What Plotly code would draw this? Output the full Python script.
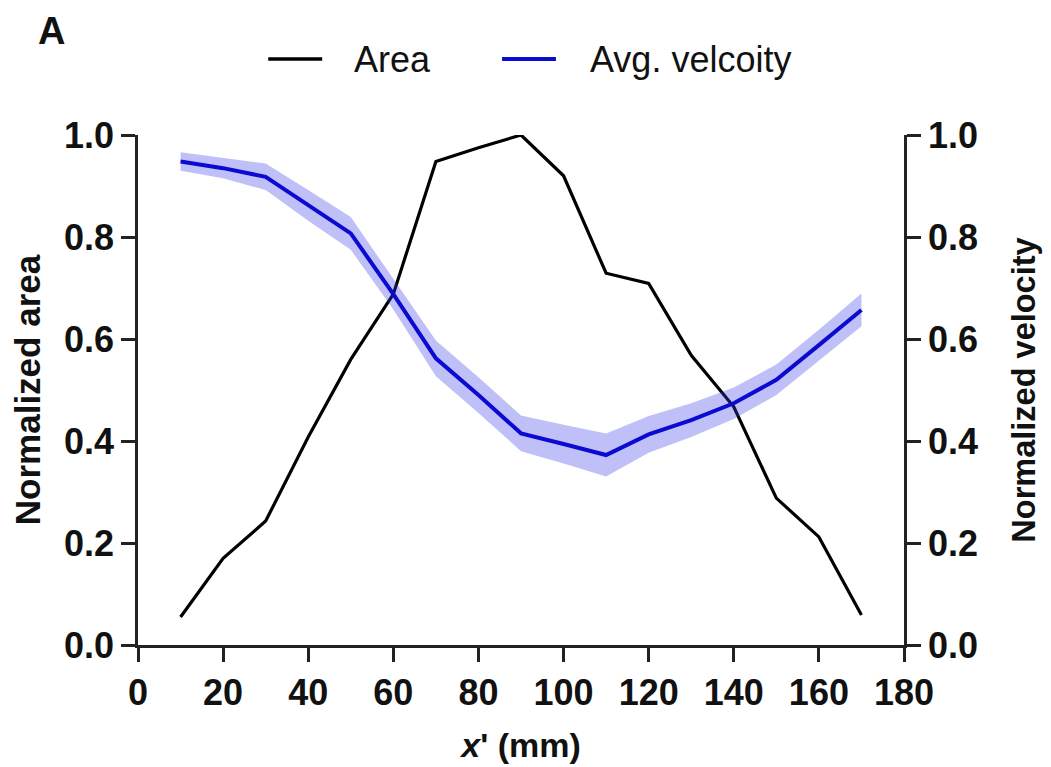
import plotly.graph_objects as go

x_mm = [10, 20, 30, 40, 50, 60, 70, 80, 90, 100, 110, 120, 130, 140, 150, 160, 170]
area = [0.055, 0.17, 0.243, 0.408, 0.56, 0.688, 0.948, 0.975, 1.0, 0.92, 0.729, 0.709, 0.568, 0.467, 0.288, 0.212, 0.059]
velocity = [0.948, 0.935, 0.918, 0.862, 0.807, 0.688, 0.562, 0.49, 0.415, 0.394, 0.3725, 0.413, 0.441, 0.474, 0.52, 0.588, 0.657]
velocity_sd = [0.018, 0.02, 0.026, 0.03, 0.032, 0.03, 0.035, 0.035, 0.035, 0.038, 0.042, 0.036, 0.033, 0.031, 0.03, 0.03, 0.032]
x_ticks = [0, 20, 40, 60, 80, 100, 120, 140, 160, 180]
y_ticks = [0.0, 0.2, 0.4, 0.6, 0.8, 1.0]
legend_labels = ["Area", "Avg. velcoity"]

FONT = "Liberation Sans, Arial, sans-serif"
AXIS_COLOR = "#222222"
AREA_COLOR = "black"
VEL_COLOR = "#0a0ad2"

upper = [v + s for v, s in zip(velocity, velocity_sd)]
lower = [v - s for v, s in zip(velocity, velocity_sd)]

fig = go.Figure()
fig.add_trace(go.Scatter(
    x=x_mm + x_mm[::-1], y=upper + lower[::-1], yaxis="y2",
    fill="toself", fillcolor="rgba(60,60,235,0.32)", line=dict(width=0),
    mode="lines", showlegend=False, hoverinfo="skip"))
fig.add_trace(go.Scatter(
    x=x_mm, y=area, name=legend_labels[0], mode="lines", showlegend=False,
    line=dict(color=AREA_COLOR, width=3.2)))
fig.add_trace(go.Scatter(
    x=x_mm, y=velocity, name=legend_labels[1], mode="lines", yaxis="y2", showlegend=False,
    line=dict(color=VEL_COLOR, width=4)))

tickfont = dict(family=FONT, size=36, color="#111111", weight="bold")

common = dict(showline=True, linecolor=AXIS_COLOR, linewidth=2.5, ticks="outside",
              ticklen=14, tickwidth=2.5, tickcolor=AXIS_COLOR, showgrid=False,
              zeroline=False, tickfont=tickfont, automargin=False)

# page body has an 8px margin; plot area target: x 137.5-904.5, y 135-645 on screen
fig.update_layout(
    width=1051, height=767,
    paper_bgcolor="white", plot_bgcolor="white",
    margin=dict(l=129.5, r=154.5, t=127, b=130, autoexpand=False),
    font=dict(family=FONT),
    showlegend=False,
    xaxis=dict(range=[0, 180], tickvals=x_ticks, anchor="y",
               title=dict(text="<i>x</i>' (mm)", standoff=22,
                          font=dict(family=FONT, size=34, color="#111111", weight="bold")),
               **common),
    yaxis=dict(range=[0, 1], tickvals=y_ticks, tickformat=".1f", anchor="x",
               title=dict(text="Normalized area", standoff=14,
                          font=dict(family=FONT, size=35, color="#111111", weight="bold")),
               **common),
    yaxis2=dict(range=[0, 1], tickvals=y_ticks, tickformat=".1f", overlaying="y",
                side="right", anchor="x",
                title=dict(text="Normalized velocity", standoff=36,
                           font=dict(family=FONT, size=32.5, color="#111111", weight="bold")),
                **common),
)

# legend drawn as line samples + text (positions in plot-area fractions)
legend_y = 1.149
legend_items = [(legend_labels[0], AREA_COLOR, 3.5, 0.170, 0.2405, 0.2797),
                (legend_labels[1], VEL_COLOR, 4, 0.4753, 0.5456, 0.5873)]
for label, color, w, x0, x1, xt in legend_items:
    fig.add_shape(type="line", xref="paper", yref="paper", x0=x0, x1=x1,
                  y0=legend_y, y1=legend_y, line=dict(color=color, width=w))
    fig.add_annotation(text=label, xref="paper", yref="paper", x=xt, y=legend_y,
                       xanchor="left", yanchor="middle", showarrow=False,
                       font=dict(family=FONT, size=36, color="#111111"))

fig.add_annotation(text="A", xref="paper", yref="paper", x=-0.1336, y=1.203,
                   xanchor="left", yanchor="middle", showarrow=False,
                   font=dict(family=FONT, size=38, color="#111111", weight="bold"))

fig.write_html("out.html")
